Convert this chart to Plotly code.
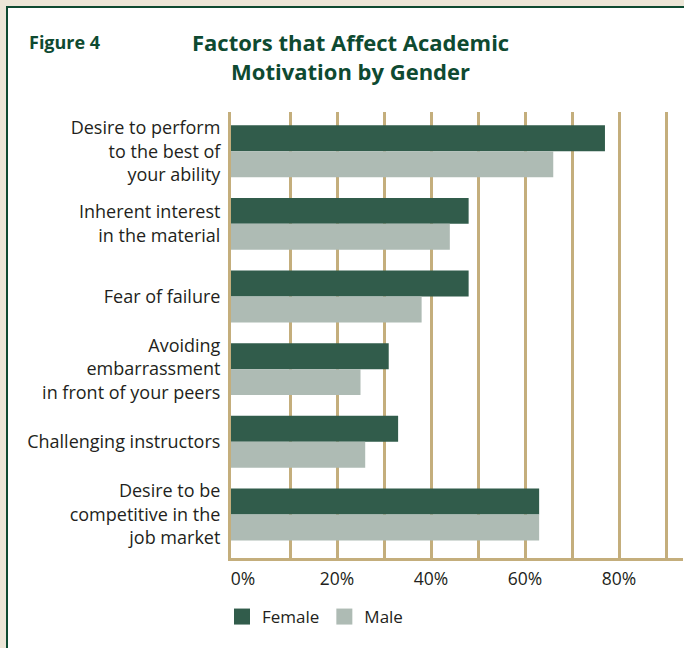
import plotly.graph_objects as go

# ---- data ----
categories = [
    "Desire to perform<br>to the best of<br>your ability",
    "Inherent interest<br>in the material",
    "Fear of failure",
    "Avoiding<br>embarrassment<br>in front of your peers",
    "Challenging instructors",
    "Desire to be<br>competitive in the<br>job market",
]
female = [77, 48, 48, 31, 33, 63]
male = [66, 44, 38, 25, 26, 63]
x_tick_vals = [0, 20, 40, 60, 80]
x_tick_text = ["0%", "20%", "40%", "60%", "80%"]
grid_vals = [10, 20, 30, 40, 50, 60, 70, 80, 90]

# ---- style ----
FEMALE_C = "#315c4b"
MALE_C = "#aebbb4"
TAN = "#c4ae7c"
GREEN = "#0e4a31"
BEIGE = "#ece6d7"
TEXT = "#231f20"
FONT = "Open Sans, sans-serif"

W, H = 684, 648
L, R, T, B = 231, 1, 112, 90
PW, PH = W - L - R, H - T - B
AXIS_START = -2.55      # left edge of value axis (bars grow from the axis line)
AXIS_END = 93.6


def px_x(p):
    return (p - L) / PW


def px_y(p):
    return (H - B - p) / PH


fig = go.Figure()
fig.add_trace(go.Bar(
    y=categories, x=[v - AXIS_START for v in female], base=AXIS_START,
    orientation="h", name="Female", marker=dict(color=FEMALE_C, line=dict(width=0)),
    showlegend=False, customdata=female, hovertemplate="%{customdata}%<extra>Female</extra>"))
fig.add_trace(go.Bar(
    y=categories, x=[v - AXIS_START for v in male], base=AXIS_START,
    orientation="h", name="Male", marker=dict(color=MALE_C, line=dict(width=0)),
    showlegend=False, customdata=male, hovertemplate="%{customdata}%<extra>Male</extra>"))
# legend entries
for nm, c in [("Female", FEMALE_C), ("Male", MALE_C)]:
    fig.add_trace(go.Scatter(x=[None], y=[None], mode="markers", name=nm,
                             marker=dict(symbol="square", size=21, color=c)))

fig.update_layout(
    width=W, height=H,
    margin=dict(l=L, r=R, t=T, b=B),
    paper_bgcolor=BEIGE,
    plot_bgcolor="rgba(0,0,0,0)",
    barmode="group", bargap=0.285, bargroupgap=0,
    font=dict(family=FONT, size=17, color=TEXT),
    showlegend=True,
    legend=dict(orientation="h", x=px_x(222), xanchor="left", y=px_y(617), yanchor="middle",
                font=dict(size=17, color=TEXT), itemsizing="trace", bgcolor="rgba(0,0,0,0)"),
    xaxis=dict(range=[AXIS_START, AXIS_END], tickvals=x_tick_vals, ticktext=x_tick_text,
               showgrid=False, zeroline=False, showline=True, linecolor=TAN, linewidth=3,
               ticks="", ticklabelstandoff=3, tickfont=dict(size=17.5, color=TEXT), fixedrange=True,
               minor=dict(tickvals=grid_vals, showgrid=True, gridcolor=TAN, gridwidth=3, ticks="")),
    yaxis=dict(type="category", range=[5.6, -0.54], showgrid=False, zeroline=False,
               showline=True, linecolor=TAN, linewidth=3, ticks="", ticklabelstandoff=4,
               tickfont=dict(size=18, color=TEXT), fixedrange=True),
    shapes=[dict(type="rect", xref="paper", yref="paper", layer="below",
                 x0=px_x(7), x1=px_x(W + 20), y0=px_y(H + 20), y1=px_y(7),
                 fillcolor="white", line=dict(color=GREEN, width=2))],
    annotations=[
        dict(text="<b>Figure 4</b>", xref="paper", yref="paper",
             x=px_x(27), xanchor="left", y=px_y(42), yanchor="middle",
             showarrow=False, font=dict(family=FONT, size=18, color=GREEN)),
        dict(text="<b>Factors that Affect Academic<br>Motivation by Gender</b>",
             xref="paper", yref="paper", x=px_x(350), xanchor="center",
             y=px_y(56), yanchor="middle", showarrow=False, align="center",
             font=dict(family=FONT, size=22, color=GREEN)),
    ],
)

fig.write_html("out.html", config={"displayModeBar": False},
               post_script="document.body.style.margin='0';")
